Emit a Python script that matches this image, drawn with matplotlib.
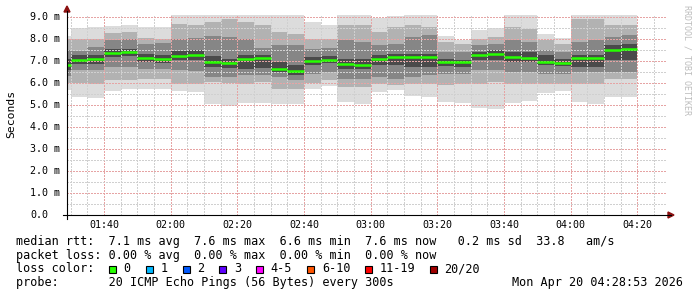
import numpy as np
import matplotlib
matplotlib.use('Agg')
import matplotlib.pyplot as plt
from matplotlib.lines import Line2D
from matplotlib.patches import Rectangle, Polygon
import matplotlib.transforms as mtransforms

# 5 minute bins, end time in minutes after midnight (first bin only partly shown)
bin_end = np.arange(90, 261, 5)

# median rtt per bin (ms)
median = [6.83, 7.05, 7.11, 7.38, 7.42, 7.15, 7.11, 7.24, 7.27, 6.97, 6.92, 7.11,
          7.14, 6.65, 6.56, 7.00, 7.05, 6.86, 6.80, 7.11, 7.18, 7.18, 7.20, 6.97,
          6.94, 7.26, 7.32, 7.17, 7.15, 6.97, 6.92, 7.12, 7.14, 7.52, 7.56]

# smoke bands (ms): outermost pings, 3rd, 6th and 9th from each end
hi1 = [8.14, 8.48, 8.53, 8.59, 8.65, 8.53, 8.53, 9.20, 9.20, 9.20, 9.20, 9.20,
       9.20, 9.20, 9.20, 8.77, 8.64, 9.20, 9.20, 8.95, 9.05, 9.20, 9.20, 8.14,
       7.95, 8.41, 8.48, 9.20, 9.20, 8.23, 8.03, 9.20, 9.20, 9.20, 9.20]
lo1 = [5.68, 5.38, 5.33, 5.65, 5.71, 5.74, 5.74, 5.65, 5.60, 5.05, 4.97, 5.10,
       5.10, 5.05, 5.05, 5.74, 5.86, 5.15, 5.05, 5.60, 5.68, 5.41, 5.36, 5.15,
       5.08, 4.88, 4.83, 5.10, 5.18, 5.56, 5.65, 5.15, 5.05, 5.35, 5.38]
hi3 = [8.00, 8.00, 8.00, 8.29, 8.32, 8.05, 8.00, 8.70, 8.65, 8.77, 8.92, 8.77,
       8.62, 8.32, 8.24, 8.00, 8.00, 8.62, 8.62, 8.32, 8.55, 8.62, 8.55, 7.86,
       7.79, 8.00, 8.09, 8.55, 8.47, 7.94, 7.79, 8.92, 8.92, 8.62, 8.62]
lo3 = [6.00, 6.00, 5.97, 6.12, 6.12, 6.20, 6.20, 5.97, 5.97, 6.05, 6.00, 5.97,
       6.05, 5.74, 5.74, 6.02, 6.12, 5.82, 5.82, 5.97, 5.89, 5.97, 5.97, 5.89,
       5.97, 5.97, 6.05, 5.97, 5.97, 5.97, 5.97, 5.97, 5.97, 6.20, 6.20]
hi6 = [7.50, 7.44, 7.64, 7.94, 7.98, 7.79, 7.83, 8.00, 8.05, 8.14, 8.09, 8.00,
       7.59, 7.71, 7.71, 7.56, 7.59, 7.94, 7.86, 7.71, 7.79, 8.09, 8.17, 7.41,
       7.41, 7.71, 7.79, 7.94, 7.86, 7.48, 7.41, 7.86, 7.94, 8.09, 8.17]
lo6 = [6.30, 6.58, 6.58, 6.73, 6.73, 6.65, 6.65, 6.58, 6.53, 6.27, 6.27, 6.35,
       6.38, 6.27, 6.12, 6.42, 6.50, 6.20, 6.20, 6.27, 6.20, 6.27, 6.35, 6.42,
       6.42, 6.58, 6.58, 6.50, 6.50, 6.42, 6.42, 6.50, 6.50, 6.50, 6.50]
hi9 = [7.10, 7.26, 7.26, 7.53, 7.56, 7.33, 7.29, 7.44, 7.48, 7.23, 7.11, 7.26,
       7.26, 6.95, 6.80, 7.18, 7.23, 7.11, 7.11, 7.26, 7.33, 7.33, 7.33, 7.11,
       7.03, 7.41, 7.48, 7.41, 7.41, 7.26, 7.11, 7.26, 7.26, 7.71, 7.79]
lo9 = [6.60, 6.88, 6.88, 7.18, 7.23, 6.95, 6.92, 7.03, 7.03, 6.73, 6.68, 6.65,
       6.68, 6.50, 6.38, 6.80, 6.92, 6.65, 6.62, 6.80, 6.80, 6.73, 6.73, 6.77,
       6.73, 7.03, 7.03, 6.95, 6.95, 6.83, 6.77, 6.73, 6.73, 7.03, 7.03]

xtick_min = [100, 120, 140, 160, 180, 200, 220, 240, 260]
xtick_lab = ['01:40', '02:00', '02:20', '02:40', '03:00', '03:20', '03:40', '04:00', '04:20']
ytick_val = [0, 1, 2, 3, 4, 5, 6, 7, 8, 9]
ytick_lab = ['0.0'] + ['%d.0 m' % v for v in ytick_val[1:]]

loss_labels = ['0', '1', '2', '3', '4-5', '6-10', '11-19', '20/20']
loss_colors = ['#26ff00', '#00b8ff', '#0059ff', '#5e00ff', '#ff00ff', '#ff5500', '#ff0000', '#a00000']

W, H = 697, 297
mono = 'DejaVu Sans Mono'
t_start = 88 + 53 / 60.0

fig = plt.figure(figsize=(W / 100, H / 100), dpi=100)
ax = fig.add_axes([67 / W, (H - 215) / H, 600 / W, 200 / H])
ax.set_xlim(t_start, t_start + 180)
ax.set_ylim(0, 200 / 22)

left = bin_end - 5
smoke = [(lo1, hi1, '#dcdcdc'), (lo3, hi3, '#b2b2b2'), (lo6, hi6, '#868686'), (lo9, hi9, '#4a4a4a')]
for lo, hi, col in smoke:
    ax.bar(left, np.array(hi) - np.array(lo), bottom=lo, width=5, align='edge',
           color=col, linewidth=0, zorder=1)
ax.hlines(median, left, bin_end, color='#26ff00', linewidth=1.8, zorder=4)

# grid, dotted
ax.set_xticks(np.arange(90, 270, 5), minor=True)
ax.set_xticks(xtick_min)
ax.set_yticks(np.arange(0.5, 9.1, 1.0), minor=True)
ax.set_yticks(ytick_val)
ax.grid(which='minor', color='#d0d0d0', linestyle=(0, (1, 1)), linewidth=1.0,
        antialiased=False, zorder=3)
ax.grid(which='major', color='#e6a4a4', linestyle=(0, (1, 1)), linewidth=1.0,
        antialiased=False, zorder=3)
ax.set_axisbelow(False)
ax.tick_params(which='both', length=0, labelbottom=False, labelleft=False)
for s in ax.spines.values():
    s.set_visible(False)

# axes lines and arrows
fig.add_artist(Line2D([63 / W, 671 / W], [(H - 215) / H] * 2, color='#000000', lw=0.8))
fig.add_artist(Line2D([67 / W] * 2, [(H - 219) / H, (H - 11) / H], color='#000000', lw=0.8))
fig.add_artist(Polygon([[668 / W, (H - 212) / H], [668 / W, (H - 218) / H], [674 / W, (H - 215) / H]],
                       closed=True, color='#8b1010', transform=fig.transFigure))
fig.add_artist(Polygon([[64 / W, (H - 12) / H], [70 / W, (H - 12) / H], [67 / W, (H - 6) / H]],
                       closed=True, color='#8b1010', transform=fig.transFigure))

# tick labels
ty = mtransforms.blended_transform_factory(fig.transFigure, ax.transData)
for v, lab in zip(ytick_val, ytick_lab):
    ax.text(30 / W, v, lab, transform=ty, ha='left', va='center', family=mono, fontsize=7.2)
tx = mtransforms.blended_transform_factory(ax.transData, fig.transFigure)
for v, lab in zip(xtick_min, xtick_lab):
    ax.text(v, (H - 225) / H, lab, transform=tx, ha='center', va='center', family=mono, fontsize=7.2)

fig.text(11 / W, (H - 114) / H, 'Seconds', rotation=90, ha='center', va='center', family=mono, fontsize=8.2)
fig.text(687 / W, (H - 60) / H, 'RRDTOOL / TOBI OETIKER', rotation=270, ha='center', va='center',
         family=mono, fontsize=6.0, color='#bdbdbd')

# legend rows
fs = 8.45
fig.text(16 / W, (H - 245) / H, 'median rtt:  7.1 ms avg  7.6 ms max  6.6 ms min  7.6 ms now   0.2 ms sd  33.8   am/s',
         family=mono, fontsize=fs, va='baseline')
fig.text(16 / W, (H - 259) / H, 'packet loss: 0.00 % avg  0.00 % max  0.00 % min  0.00 % now',
         family=mono, fontsize=fs, va='baseline')
fig.text(16 / W, (H - 272.5) / H, 'loss color:', family=mono, fontsize=fs, va='baseline')
box_x = [108.7, 145.7, 182.7, 219.3, 256.0, 307.3, 365.3, 430.0]
for bx, lab, col in zip(box_x, loss_labels, loss_colors):
    fig.add_artist(Rectangle((bx / W, (H - 272.5) / H), 7 / W, 7 / H, facecolor=col,
                             edgecolor='black', lw=0.8, transform=fig.transFigure))
    fig.text((bx + 14.6) / W, (H - 272.5) / H, lab, family=mono, fontsize=fs, va='baseline')
fig.text(16 / W, (H - 286) / H, 'probe:       20 ICMP Echo Pings (56 Bytes) every 300s',
         family=mono, fontsize=fs, va='baseline')
fig.text(683 / W, (H - 286) / H, 'Mon Apr 20 04:28:53 2026', family=mono, fontsize=fs,
         va='baseline', ha='right')

fig.savefig('out.png', dpi=100)
